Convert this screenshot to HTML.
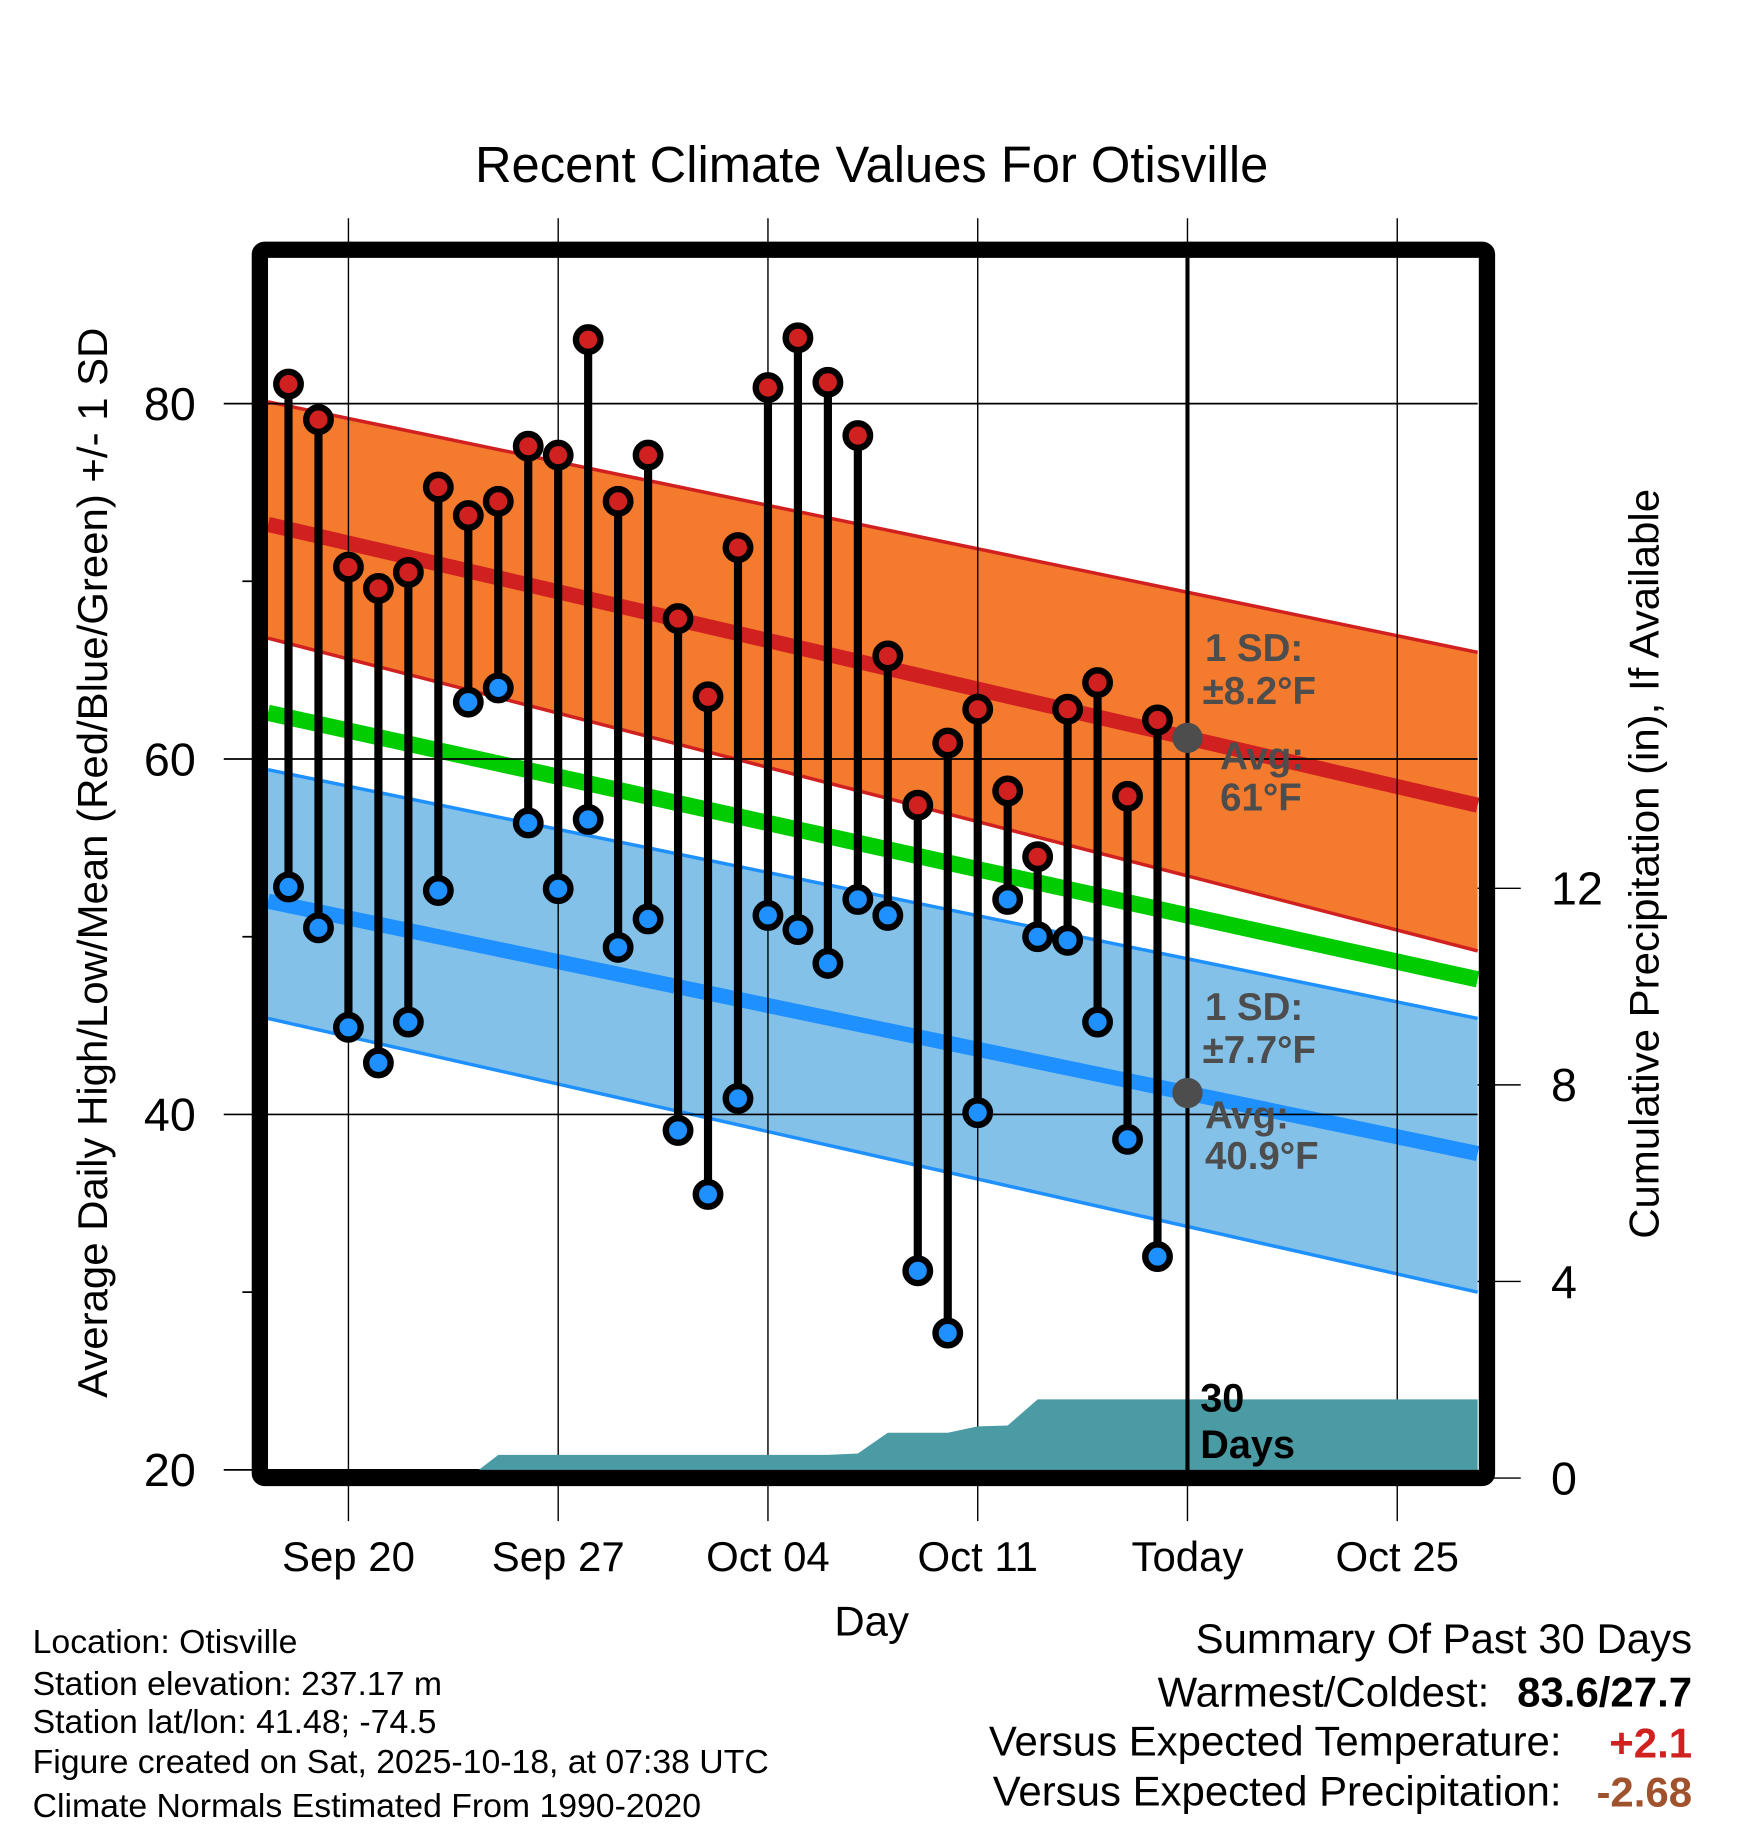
<!DOCTYPE html>
<html><head><meta charset="utf-8"><style>html,body{margin:0;padding:0;background:#fff}svg{display:block}text{font-family:"Liberation Sans",sans-serif}</style></head>
<body>
<svg id="chart" width="1748" height="1828" viewBox="0 0 1500 1568" xmlns="http://www.w3.org/2000/svg">
<text x="748" y="156" font-size="43.5" text-anchor="middle">Recent Climate Values For Otisville</text>
<g id="bands"></g>
<g id="grid"></g>
<g id="precip"></g>
<g id="stems"></g>
<g id="frame"></g>
<g id="labels"></g>
<text transform="translate(92,740) rotate(-90)" font-size="36" text-anchor="middle">Average Daily High/Low/Mean (Red/Blue/Green) +/- 1 SD</text>
<text transform="translate(1423,741) rotate(-90)" font-size="36" text-anchor="middle">Cumulative Precipitation (in), If Available</text>
<text x="748" y="1403" font-size="36" text-anchor="middle">Day</text>
<g font-size="29">
<text x="28" y="1418">Location: Otisville</text>
<text x="28" y="1454">Station elevation: 237.17 m</text>
<text x="28" y="1487">Station lat/lon: 41.48; -74.5</text>
<text x="28" y="1521">Figure created on Sat, 2025-10-18, at 07:38 UTC</text>
<text x="28" y="1559">Climate Normals Estimated From 1990-2020</text>
</g>
<g font-size="36" text-anchor="end">
<text x="1452" y="1418">Summary Of Past 30 Days</text>
<text x="1278" y="1464">Warmest/Coldest:</text>
<text x="1452" y="1464" font-weight="bold">83.6/27.7</text>
<text x="1340" y="1506">Versus Expected Temperature:</text>
<text x="1452" y="1508" font-weight="bold" fill="#d02020">+2.1</text>
<text x="1340" y="1549">Versus Expected Precipitation:</text>
<text x="1452" y="1550" font-weight="bold" fill="#a0522d">-2.68</text>
</g>
</svg>
<script>
const NS="http://www.w3.org/2000/svg";
const highs=[81.1,79.1,70.8,69.6,70.5,75.3,73.7,74.5,77.6,77.1,83.6,74.5,77.1,67.9,63.5,71.9,80.9,83.7,81.2,78.2,65.8,57.4,60.9,62.8,58.2,54.5,62.8,64.3,57.9,62.2];
const lows=[52.8,50.5,44.9,42.9,45.2,52.6,63.2,64.0,56.4,52.7,56.6,49.4,51.0,39.1,35.5,40.9,51.2,50.4,48.5,52.1,51.2,31.2,27.7,40.1,52.1,50.0,49.8,45.2,38.6,32.0];
const precipCum=[0,0,0,0,0,0,0,0.47,0.47,0.47,0.47,0.47,0.47,0.47,0.47,0.47,0.47,0.47,0.47,0.5,0.92,0.92,0.92,1.05,1.07,1.6,1.6,1.6,1.6,1.6];
const normHighEnds=[73.2,57.4], normHighUp=[80.1,66.0], normHighLo=[66.8,49.2];
const normMeanEnds=[62.6,47.6];
const normLowEnds=[52.0,37.8], normLowUp=[59.4,45.4], normLowLo=[45.4,30.0];
const xTickLabels=["Sep 20","Sep 27","Oct 04","Oct 11","Today","Oct 25"];
const xTickDays=[0,7,14,21,28,35];
const yTicks=[20,40,60,80], yMinor=[30,50,70];
const pTicks=[0,4,8,12];
const firstDay=-2; // Sep 18 relative to Sep 20
const X=d=>299+d*180/7, Y=v=>346+(80-v)*15.25, P=v=>1268-v*42.17;
const L=230,R=1268,dL=(L-299)/(180/7),dR=(R-299)/(180/7);
function el(tag,attrs,parent){const e=document.createElementNS(NS,tag);for(const k in attrs)e.setAttribute(k,attrs[k]);parent.appendChild(e);return e;}
const bands=document.getElementById('bands'),grid=document.getElementById('grid'),pr=document.getElementById('precip'),st=document.getElementById('stems'),fr=document.getElementById('frame'),lb=document.getElementById('labels');
function band(up,lo,fill,stroke,name){
 const g=el('polygon',{points:`${L},${Y(up[0])} ${R},${Y(up[1])} ${R},${Y(lo[1])} ${L},${Y(lo[0])}`,fill:fill},bands);
 
 
 [up,lo].forEach(a=>{const l=el('line',{x1:L,y1:Y(a[0]),x2:R,y2:Y(a[1]),stroke:stroke,'stroke-width':3},bands);
 
 });
}
band(normHighUp,normHighLo,'#f47a2e','#d02020','high-sd-band');
band(normLowUp,normLowLo,'#83c1e8','#1e90ff','low-sd-band');
function ln(a,c,w,name){const l=el('line',{x1:L,y1:Y(a[0]),x2:R,y2:Y(a[1]),stroke:c,'stroke-width':w},bands);
 
 }
ln(normHighEnds,'#d02020',13,'normal-high-line');
ln(normMeanEnds,'#00cc00',14,'normal-mean-line');
ln(normLowEnds,'#1e90ff',13,'normal-low-line');
yTicks.forEach(v=>{const l=el('line',{x1:192,y1:Y(v),x2:R,y2:Y(v),stroke:'#000','stroke-width':1.5},grid);
 
 
 const t=el('text',{x:168,y:Y(v)+14,'font-size':40,'text-anchor':'end'},lb);t.textContent=v;
 
 });
yMinor.forEach(v=>{const l=el('line',{x1:208,y1:Y(v),x2:L,y2:Y(v),stroke:'#000','stroke-width':1.5},grid);
 
 });
xTickDays.forEach((d,i)=>{const l=el('line',{x1:X(d),y1:187,x2:X(d),y2:1305,stroke:'#000','stroke-width':1.2},grid);
 
 
 const t=el('text',{x:X(d),y:1348,'font-size':36,'text-anchor':'middle'},lb);t.textContent=xTickLabels[i];
 
 });
pTicks.forEach(v=>{const l=el('line',{x1:R,y1:P(v),x2:1305,y2:P(v),stroke:'#000','stroke-width':1.2},grid);
 
 
 const t=el('text',{x:1331,y:P(v)+14,'font-size':40},lb);t.textContent=v;
 
 });
let pts=`${L},${P(0)} `;
precipCum.forEach((v,i)=>{pts+=`${X(firstDay+i)},${P(v)} `;});
pts+=`${R},${P(precipCum[precipCum.length-1])} ${R},${P(0)}`;
const pa=el('polygon',{points:pts,fill:'#4a9ba3'},pr);


const pl=el('text',{x:1030,y:1211,'font-size':34,'font-weight':'bold'},pr);pl.textContent='30';


const pl2=el('text',{x:1030,y:1251,'font-size':34,'font-weight':'bold'},pr);pl2.textContent='Days';


const tl=el('line',{x1:X(28),y1:220,x2:X(28),y2:1262,stroke:'#000','stroke-width':3.5},pr);


highs.forEach((h,i)=>{const x=X(firstDay+i);
 const s=el('line',{x1:x,y1:Y(h),x2:x,y2:Y(lows[i]),stroke:'#000','stroke-width':7},st);
 
 
 const c1=el('circle',{cx:x,cy:Y(h),r:10.5,fill:'#d02020',stroke:'#000','stroke-width':5.5},st);
 
 
 const c2=el('circle',{cx:x,cy:Y(lows[i]),r:10.5,fill:'#1e90ff',stroke:'#000','stroke-width':5.5},st);
 
 });
const tH=normHighEnds[0]+(normHighEnds[1]-normHighEnds[0])*(28-dL)/(dR-dL);
const tLo=normLowEnds[0]+(normLowEnds[1]-normLowEnds[0])*(28-dL)/(dR-dL);
[tH,tLo].forEach(v=>{const c=el('circle',{cx:X(28),cy:Y(v),r:13,fill:'#4d4d4d'},st);
 
 });
const ann=[["1 SD:",1034,567],["\u00b18.2\u00b0F",1032,604],["Avg:",1047,660],["61\u00b0F",1047,695],["1 SD:",1034,875],["\u00b17.7\u00b0F",1032,912],["Avg:",1034,968],["40.9\u00b0F",1034,1003]];
ann.forEach(a=>{const t=el('text',{x:a[1],y:a[2],'font-size':33,'font-weight':'bold',fill:'#4d4d4d'},st);t.textContent=a[0];
 
 });
const f=el('rect',{x:223,y:214,width:1053,height:1054,fill:'none',stroke:'#000','stroke-width':14,rx:4},fr);


</script>
</body></html>
